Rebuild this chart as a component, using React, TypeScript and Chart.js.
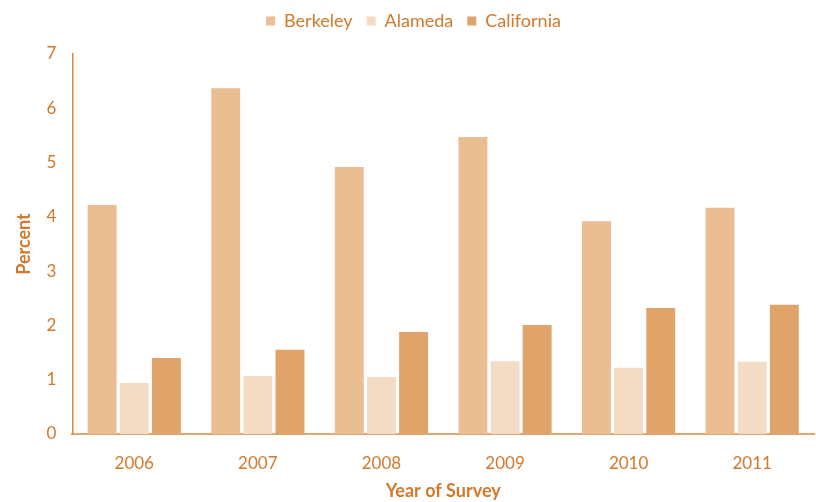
import React, { useEffect, useRef } from "react";
import { Chart, registerables } from "chart.js";

Chart.register(...registerables);

const years = ["2006", "2007", "2008", "2009", "2010", "2011"];
const berkeley = [4.22, 6.37, 4.92, 5.47, 3.92, 4.17];
const alameda = [0.94, 1.07, 1.05, 1.34, 1.22, 1.33];
const california = [1.4, 1.55, 1.88, 2.01, 2.32, 2.38];
const yTicks = [0, 1, 2, 3, 4, 5, 6, 7];

const TEXT = "#D4782A";
const AXIS = "#D88A3E";
const FONT = "Lato, 'Open Sans', sans-serif";

const legendMargin = {
  id: "legendMargin",
  beforeInit(chart: any) {
    const orig = chart.legend.fit;
    chart.legend.fit = function () {
      orig.bind(this)();
      this.height += 14;
    };
  },
};

export default function App() {
  const ref = useRef<HTMLCanvasElement>(null);
  useEffect(() => {
    if (!ref.current) return;
    const chart = new Chart(ref.current, {
      type: "bar",
      data: {
        labels: years,
        datasets: [
          { label: "Berkeley", data: berkeley, backgroundColor: "#EABD92" },
          { label: "Alameda", data: alameda, backgroundColor: "#F4DBC4" },
          { label: "California", data: california, backgroundColor: "#E0A46B" },
        ],
      },
      plugins: [legendMargin],
      options: {
        animation: false,
        responsive: false,
        maintainAspectRatio: false,
        layout: { padding: { left: 13, right: 2, top: -2, bottom: 0 } },
        datasets: { bar: { categoryPercentage: 0.78, barPercentage: 0.9 } },
        plugins: {
          legend: {
            position: "top",
            labels: {
              color: TEXT,
              font: { family: FONT, size: 18 },
              boxWidth: 9,
              boxHeight: 9,
              padding: 14,
            },
          },
          tooltip: { enabled: false },
        },
        scales: {
          x: {
            grid: { display: false, drawTicks: false },
            border: { display: true, color: "#E2A673", width: 2 },
            ticks: { color: TEXT, font: { family: FONT, size: 17 }, padding: 19 },
            title: {
              display: true,
              text: "Year of Survey",
              color: TEXT,
              font: { family: FONT, size: 18, weight: "bold" },
              padding: { top: -12, bottom: 0 },
            },
          },
          y: {
            min: 0,
            max: 7,
            afterBuildTicks: (axis: any) => {
              axis.ticks = yTicks.map((v) => ({ value: v }));
            },
            grid: { display: false, drawOnChartArea: false, drawTicks: true, tickLength: 6, color: AXIS },
            border: { display: true, color: AXIS, width: 1.5 },
            ticks: { color: TEXT, font: { family: FONT, size: 17 }, padding: 10 },
            title: {
              display: true,
              text: "Percent",
              color: TEXT,
              font: { family: FONT, size: 18, weight: "bold" },
              padding: { top: 0, bottom: 2 },
            },
          },
        },
      },
    });
    return () => chart.destroy();
  }, []);
  return (
    <div style={{ position: "absolute", left: 0, top: 0, width: 816, height: 502 }}>
      <canvas ref={ref} width={816} height={502} style={{ display: "block" }} />
    </div>
  );
}
